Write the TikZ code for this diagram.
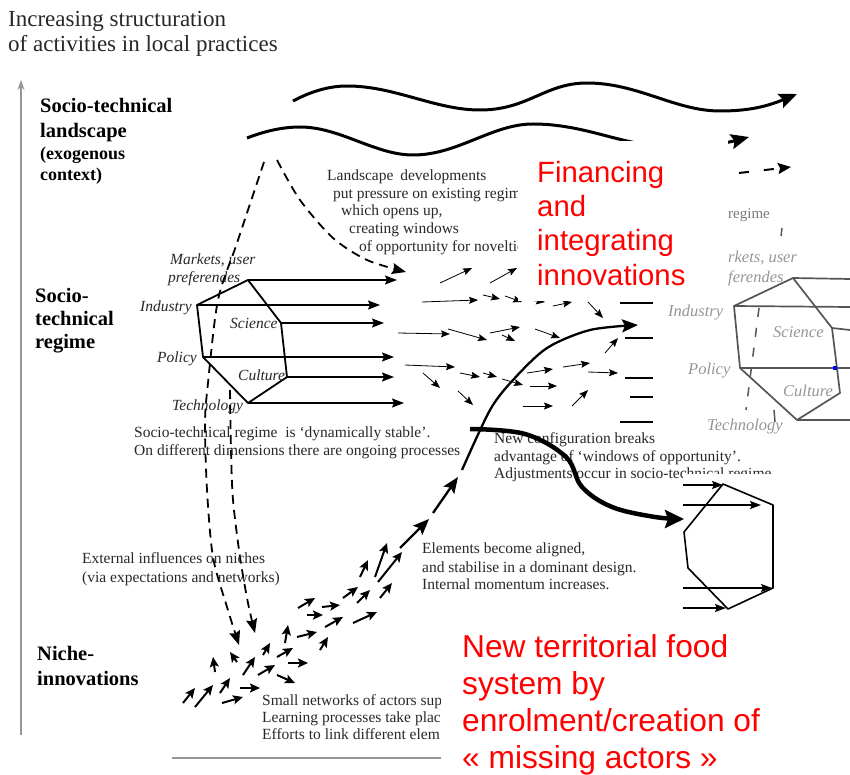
\documentclass[tikz,border=0pt]{standalone}
\usepackage{fontspec}
\setmainfont{Liberation Serif}
\newfontfamily\arialfont{Liberation Sans}
\usetikzlibrary{arrows.meta}
\newcommand\fsz[1]{\fontsize{#1}{#1}\selectfont}
\definecolor{txtc}{RGB}{40,40,40}
\definecolor{redc}{RGB}{255,0,0}
\definecolor{ghost}{RGB}{85,85,85}
\definecolor{ghosttxt}{RGB}{150,150,150}
\definecolor{axisc}{RGB}{150,150,150}
\begin{document}
\begin{tikzpicture}[x=1pt,y=-1pt,
  lbl/.style={anchor=base west, inner sep=0pt, text=txtc, font=\fsz{15.5}},
  ital/.style={anchor=base west, inner sep=0pt, text=txtc, font=\fsz{15.5}\itshape},
  lvl/.style={anchor=base west, inner sep=0pt, text=black, font=\fsz{20.5}\bfseries},
  redtxt/.style={anchor=base west, inner sep=0pt, text=redc, font=\arialfont\fsz{29.3}},
  redbig/.style={anchor=base west, inner sep=0pt, text=redc, font=\arialfont\fsz{31.7}},
  wave/.style={line width=3pt, -{Stealth[length=18pt,width=15pt,inset=3pt]}},
  hexline/.style={line width=1.8pt, line join=round},
  hexarr/.style={line width=1.6pt, -{Stealth[length=12pt,width=9pt,inset=2pt]}},
  dasharr/.style={line width=1.8pt, dash pattern=on 9pt off 6pt, -{Stealth[length=14pt,width=11pt,inset=2pt]}},
  smallarr/.style={line width=0.8pt, -{Stealth[length=9pt,width=7pt,inset=1.5pt]}},
  nichearr/.style={line width=2pt, -{Stealth[length=10pt,width=9pt,inset=2pt]}},
  traj/.style={line width=2.3pt, -{Stealth[length=16pt,width=13pt,inset=3pt]}},
  bigcurve/.style={line width=4.5pt, -{Stealth[length=19pt,width=18pt,inset=3pt]}},
  cover/.style={fill=white, draw=none},
  ghostline/.style={draw=ghost, line width=1.7pt, line join=round},
  ghostlbl/.style={anchor=base west, inner sep=0pt, text=ghosttxt, font=\fsz{16.5}\itshape},
  ovarr/.style={line width=1.4pt, -{Stealth[length=11pt,width=8pt,inset=2pt]}}
]
\useasboundingbox (0,0) rectangle (850,775);
\fill[white] (0,0) rectangle (850,775);

% ---------- title and axis ----------
\node[lbl, font=\fsz{23}] (t1) at (8,27) {Increasing structuration};
\node[lbl, font=\fsz{23}] (t2) at (8,52) {of activities in local practices};
\coordinate (axb) at (21,735);
\coordinate (axt) at (21,80);
\draw[axisc, line width=1.3pt, -{Stealth[length=10pt,width=7pt]}] (axb) -- (axt);
\coordinate (bl1) at (172,758);
\coordinate (bl2) at (441,758);
\draw[axisc, line width=1.5pt] (bl1) -- (bl2);

% ---------- level labels ----------
\node[lvl] (l1) at (40,113) {Socio-technical};
\node[lvl] (l2) at (40,138) {landscape};
\node[lvl, font=\fsz{18}\bfseries] (l3) at (40,160) {(exogenous};
\node[lvl, font=\fsz{18}\bfseries] (l4) at (40,181) {context)};
\node[lvl] (r1) at (35,302) {Socio-};
\node[lvl] (r2) at (35,325) {technical};
\node[lvl] (r3) at (35,348) {regime};
\node[lvl] (n1) at (37,660) {Niche-};
\node[lvl] (n2) at (37,685) {innovations};

% ---------- landscape waves ----------
\draw[wave] (293,101) .. controls (310,92) and (328,86) .. (347,86)
  .. controls (395,86) and (435,110) .. (480,110)
  .. controls (528,110) and (545,83) .. (587,83)
  .. controls (638,83) and (675,111) .. (720,111)
  .. controls (750,111) and (768,106) .. (797,94);
\draw[wave] (247,138) .. controls (265,131) and (283,127) .. (300,127)
  .. controls (340,127) and (375,155) .. (413,155)
  .. controls (458,155) and (492,124) .. (533,124)
  .. controls (570,124) and (600,135) .. (627,141)
  .. controls (665,150) and (715,146) .. (749,137);

% ---------- landscape text ----------
\node[lbl] (ld1) at (327,181) {Landscape\hspace{3pt} developments};
\node[lbl] (ld2) at (333,199) {put pressure on existing regime,};
\node[lbl] (ld3) at (341,216) {which opens up,};
\node[lbl] (ld4) at (349,234) {creating windows};
\node[lbl] (ld5) at (359,252) {of opportunity for novelties};

% ---------- regime hexagon ----------
\coordinate (hT) at (248,280);
\coordinate (hI) at (197,305);
\coordinate (hP) at (203,357);
\coordinate (hB) at (248,403);
\coordinate (hC) at (287,377);
\coordinate (hS) at (281,323);
\coordinate (aT) at (397,280);
\coordinate (aI) at (380,305);
\coordinate (aS) at (384,323);
\coordinate (aP) at (394,357);
\coordinate (aC) at (394,377);
\coordinate (aB) at (404,403);
\draw[hexline] (hT) -- (hI) -- (hP) -- (hB) -- (hC) -- (hS) -- cycle;
\draw[hexarr] (hT) -- (aT);
\draw[hexarr] (hI) -- (aI);
\draw[hexarr] (hS) -- (aS);
\draw[hexarr] (hP) -- (aP);
\draw[hexarr] (hC) -- (aC);
\draw[hexarr] (hB) -- (aB);
\node[ital] (mk1) at (170,265) {Markets, user};
\node[ital] (mk2) at (168,282) {preferendes};
\node[ital] (ind) at (140,311) {Industry};
\node[ital] (sci) at (230,328) {Science};
\node[ital] (pol) at (157,362) {Policy};
\node[ital] (cul) at (238,380) {Culture};
\node[ital] (tec) at (172,410) {Technology};

% ---------- dashed influences ----------
\draw[dasharr] plot[smooth] coordinates {(264,162) (237,243) (218,300) (208,383) (205,423) (207,490) (213,557) (227,607) (239,645)};
\draw[dasharr] plot[smooth] coordinates {(230,390) (231,450) (233,500) (240,557) (248,603) (255,633)};
\draw[dasharr] plot[smooth] coordinates {(277,160) (300,200) (333,238) (367,260) (406,272)};

% ---------- texts ----------
\node[lbl] (st1) at (134,437) {Socio-technical regime \ is ‘dynamically stable’.};
\node[lbl] (st2) at (134,455) {On different dimensions there are ongoing processes};
\node[lbl] (ex1) at (82,563) {External influences on niches};
\node[lbl] (ex2) at (82,582) {(via expectations and networks)};
\node[lbl] (el1) at (422,553) {Elements become aligned,};
\node[lbl] (el2) at (422,572) {and stabilise in a dominant design.};
\node[lbl] (el3) at (422,589) {Internal momentum increases.};
\node[lbl] (nc1) at (494,443) {New configuration breaks};
\node[lbl] (nc2) at (494,461) {advantage of ‘windows of opportunity’.};
\node[lbl] (nc3) at (494,478) {Adjustments occur in socio-technical regime};
\begin{scope}
  \clip (250,680) rectangle (441,750);
  \node[lbl] (sn1) at (262,705) {Small networks of actors sup};
  \node[lbl] (sn2) at (262,722) {Learning processes take plac};
  \node[lbl] (sn3) at (262,739) {Efforts to link different elem};
\end{scope}

% ---------- regime small arrows ----------
\foreach \xa/\ya/\xb/\yb in {440/283/472/268, 490/283/517/268, 422/302/478/300, 483/295/500/299,
  505/296/522/302, 528/300/545/302, 553/306/572/302, 588/302/603/318, 398/333/450/334, 448/329/487/340,
  490/333/520/327, 502/335/515/341, 535/329/560/338, 605/353/618/338, 405/365/455/367, 423/373/440/388,
  460/373/480/377, 483/373/497/377, 502/379/523/385, 527/373/553/369, 563/367/590/363, 588/372/618/373,
  458/391/473/405, 530/386/557/386, 523/406/553/406, 572/406/588/390}
  \draw[smallarr] (\xa,\ya) -- (\xb,\yb);
\foreach \yy/\xx in {303/620, 338/625, 378/625, 397/630, 422/620}
  \draw[line width=1.8pt] (\xx,\yy) -- (653,\yy);

% ---------- niche arrows ----------
\foreach \xa/\ya/\xb/\yb in {183/703/195/688, 195/707/213/685, 220/693/230/678, 222/703/243/697,
  240/688/260/688, 215/672/213/657, 237/662/230/652, 243/675/255/657, 258/675/275/665, 263/655/270/643,
  277/657/293/648, 277/675/295/683, 288/663/308/663, 285/643/288/625, 297/637/317/632, 320/650/328/637,
  325/627/343/617, 307/615/323/615, 298/608/315/598, 322/607/340/605, 353/623/377/612, 343/598/358/587,
  357/603/370/590, 380/598/392/583, 360/577/368/560, 375/577/387/543, 378/582/402/552}
  \draw[nichearr] (\xa,\ya) -- (\xb,\yb);

% ---------- trajectory ----------
\coordinate (tr1) at (400,548);
\coordinate (tr2) at (429,519);
\coordinate (tr3) at (433,513);
\coordinate (tr4) at (458,477);
\draw[traj] (tr1) -- (tr2);
\draw[traj] (tr3) -- (tr4);
\draw[traj] plot[smooth] coordinates {(462,470) (490,410) (513,380) (547,348) (590,330) (638,325)};

% ---------- overlay: Financing box ----------
\fill[cover] (518,141) rectangle (728,301);
\fill[cover] (700,120) rectangle (728,141);
\coordinate (dl1) at (739,173);
\coordinate (dl2) at (791,167);
\draw[line width=2pt, dash pattern=on 10pt off 15pt, -{Stealth[length=13pt,width=11pt,inset=2pt]}] (dl1) -- (dl2);

% ---------- overlay: top-right regime image ----------
\fill[cover] (655,207) rectangle (850,441);
\node[anchor=base west, inner sep=0pt, text=ghosttxt!80!black, font=\fsz{15}] (gre) at (728,219) {regime};
\draw[ghostline, line width=1.4pt] (782,228) -- (781,236);
\node[ghostlbl] (gmk1) at (728,262) {rkets, user};
\node[ghostlbl] (gmk2) at (728,282) {ferendes};
\coordinate (gT) at (793,278);
\coordinate (gI) at (734,306);
\coordinate (gP) at (740,368);
\coordinate (gB) at (797,420);
\coordinate (gC) at (840,393);
\coordinate (gS) at (832,328);
\draw[ghostline] (gT) -- (gI) -- (gP) -- (gB) -- (gC) -- (gS) -- cycle;
\draw[ghostline] (gT) -- (850,279);
\draw[ghostline] (gI) -- (850,307);
\draw[ghostline] (gS) -- (850,330);
\draw[ghostline] (gP) -- (850,368);
\draw[ghostline] (gB) -- (850,420);
\draw[ghostline, line width=1.5pt, dash pattern=on 9pt off 11pt] (759,308) -- (746,410);
\draw[ghostline, line width=1.5pt] (774,410) -- (775,422);
\node[ghostlbl] (gind) at (668,316) {Industry};
\node[ghostlbl] (gsci) at (773,337) {Science};
\node[ghostlbl] (gpol) at (688,374) {Policy};
\node[ghostlbl] (gcul) at (783,396) {Culture};
\node[ghostlbl] (gtec) at (707,430) {Technology};
\fill[blue] (833,366) rectangle (837,370);

% ---------- Financing text ----------
\node[redtxt] (f1) at (537,183) {Financing};
\node[redtxt] (f2) at (537,216.5) {and};
\node[redtxt] (f3) at (537,250.5) {integrating};
\node[redtxt] (f4) at (537,285) {innovations};

% ---------- overlay: lower-right hexagon ----------
\fill[cover] (683,474) rectangle (850,616);
\coordinate (kT) at (723,484);
\coordinate (kRT) at (773,505);
\coordinate (kRB) at (773,588);
\coordinate (kB) at (728,609);
\coordinate (kLB) at (688,568);
\coordinate (kLT) at (684,532);
\draw[hexline, line width=1.6pt] (kT) -- (kRT) -- (kRB) -- (kB) -- (kLB) -- (kLT) -- cycle;
\draw[ovarr] (683,485) -- (723,485);
\draw[ovarr] (683,505) -- (761,505);
\draw[ovarr] (683,588) -- (772,588);
\draw[ovarr] (683,608) -- (726,608);

% ---------- overlay: bottom red text ----------
\fill[cover] (441,618) rectangle (850,775);
\node[redbig] (rb1) at (462,657) {New territorial food};
\node[redbig] (rb2) at (462,694) {system by};
\node[redbig] (rb3) at (462,731) {enrolment/creation of};
\node[redbig] (rb4) at (462,768) {« missing actors »};

% ---------- big black curve ----------
\draw[bigcurve] plot[smooth, tension=0.6] coordinates {(470,429) (525,434) (566,457) (582,487) (612,507) (655,517) (684,519)};
\end{tikzpicture}
\end{document}
